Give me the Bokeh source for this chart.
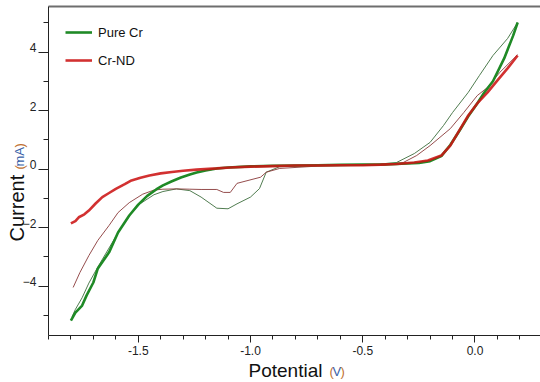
import numpy as np
from bokeh.plotting import figure
from bokeh.models import (Range1d, SingleIntervalTicker, FixedTicker, PrintfTickFormatter, Label,
                          Legend, LegendItem, LinearAxis)
from bokeh.embed import file_html
from bokeh.resources import INLINE

# ---- data ----
pure_fwd_v = [-1.80, -1.78, -1.75, -1.73, -1.70, -1.68, -1.63, -1.59, -1.54, -1.50, -1.46, -1.42,
              -1.39, -1.35, -1.31, -1.27, -1.24, -1.20, -1.15, -1.10, -1.00, -0.90, -0.80, -0.70,
              -0.60, -0.50, -0.40, -0.30, -0.25, -0.20, -0.15, -0.11, -0.07, -0.03, 0.01, 0.04,
              0.08, 0.13, 0.17, 0.19]
pure_fwd_i = [-5.18, -4.91, -4.67, -4.32, -3.88, -3.40, -2.85, -2.17, -1.59, -1.22, -0.92, -0.70,
              -0.56, -0.42, -0.29, -0.19, -0.12, -0.05, 0.02, 0.05, 0.09, 0.11, 0.12, 0.13,
              0.14, 0.15, 0.16, 0.19, 0.21, 0.27, 0.44, 0.82, 1.30, 1.80, 2.24, 2.60,
              3.00, 3.78, 4.56, 5.01]

pure_rev_v = [0.19, 0.145, 0.08, 0.02, -0.03, -0.10, -0.14, -0.20, -0.27, -0.35, -0.45, -0.60,
              -0.75, -0.87, -0.93, -0.96, -1.00, -1.06, -1.10, -1.15, -1.22, -1.27, -1.33, -1.39,
              -1.43, -1.49, -1.53, -1.58, -1.63, -1.68, -1.72, -1.75, -1.78, -1.795]
pure_rev_i = [5.01, 4.46, 3.88, 3.20, 2.62, 1.93, 1.49, 0.91, 0.53, 0.22, 0.15, 0.13,
              0.11, 0.08, -0.11, -0.67, -0.96, -1.19, -1.36, -1.34, -0.96, -0.74, -0.68, -0.77,
              -0.88, -1.18, -1.50, -2.05, -2.70, -3.35, -3.90, -4.40, -4.80, -5.05]

nd_fwd_v = [-1.80, -1.78, -1.765, -1.74, -1.72, -1.69, -1.66, -1.63, -1.60, -1.56, -1.53, -1.49,
            -1.45, -1.40, -1.35, -1.30, -1.24, -1.15, -1.09, -1.00, -0.90, -0.80, -0.70, -0.60,
            -0.50, -0.42, -0.35, -0.27, -0.21, -0.15, -0.11, -0.065, -0.03, 0.01, 0.056, 0.10,
            0.145, 0.19]
nd_fwd_i = [-1.86, -1.78, -1.65, -1.55, -1.42, -1.18, -0.96, -0.82, -0.68, -0.52, -0.39, -0.30,
            -0.22, -0.15, -0.10, -0.06, -0.02, 0.02, 0.05, 0.08, 0.10, 0.12, 0.12, 0.13,
            0.13, 0.15, 0.17, 0.22, 0.29, 0.46, 0.80, 1.38, 1.83, 2.24, 2.62, 3.03,
            3.44, 3.88]

nd_rev_v = [0.19, 0.11, 0.056, 0.01, -0.05, -0.11, -0.20, -0.26, -0.32, -0.40, -0.55, -0.70,
            -0.87, -0.93, -0.955, -1.06, -1.09, -1.12, -1.15, -1.22, -1.27, -1.33, -1.39, -1.43,
            -1.48, -1.54, -1.59, -1.63, -1.68, -1.72, -1.76, -1.79]
nd_rev_i = [3.91, 3.30, 2.79, 2.51, 1.93, 1.38, 0.80, 0.46, 0.22, 0.14, 0.12, 0.10,
            0.02, -0.11, -0.28, -0.49, -0.80, -0.80, -0.70, -0.70, -0.69, -0.68, -0.69, -0.72,
            -0.86, -1.15, -1.49, -1.93, -2.44, -2.96, -3.54, -4.05]

series_names = ["Pure Cr", "Cr-ND"]
x_ticks_interval = 0.5
y_major_ticks = [-4, -2, 0, 2, 4]
y_minor_ticks = [-5, -3, -1, 1, 3, 5]

FONT = "Liberation Sans"
# plotted data box (axes bounds) and the full-canvas ranges around it
X0, X1 = -1.90, 0.292
Y0, Y1 = -5.69, 5.556
XR = (-2.1136, 0.2918)
YR = (-7.299, 5.761)
LABEL_RAISE = 0.15  # y tick labels sit just above their ticks

p = figure(width=540, height=382, output_backend="svg", toolbar_location=None,
           x_range=Range1d(*XR), y_range=Range1d(*YR),
           x_axis_location=None, y_axis_location=None,
           min_border=0, min_border_left=0, min_border_right=0,
           min_border_top=0, min_border_bottom=0)
p.grid.visible = False
p.outline_line_color = None
p.background_fill_color = "white"
p.border_fill_color = "white"
p.extra_y_ranges = {"ylab": Range1d(YR[0] - LABEL_RAISE, YR[1] - LABEL_RAISE)}

# thin (return) sweeps
p.line(pure_rev_v, pure_rev_i, line_color="#3d6e3d", line_width=1, line_alpha=0.9)
p.line(nd_rev_v, nd_rev_i, line_color="#8a3a3a", line_width=1, line_alpha=0.9)
# thick (forward) sweeps
g = p.line(pure_fwd_v, pure_fwd_i, line_color="#1f8a26", line_width=2.6)
r = p.line(nd_fwd_v, nd_fwd_i, line_color="#cc1414", line_width=2.6, line_alpha=0.88)

AX = "#222222"


def style(ax):
    ax.axis_line_color = AX
    ax.major_tick_line_color = AX
    ax.minor_tick_line_color = AX
    ax.major_tick_in = 0
    ax.minor_tick_in = 0
    ax.major_label_text_font = FONT
    ax.major_label_text_font_size = "12px"
    ax.major_label_text_color = AX


xaxis = LinearAxis(fixed_location=Y0, bounds=(X0, X1),
                   ticker=SingleIntervalTicker(interval=x_ticks_interval, num_minor_ticks=5),
                   formatter=PrintfTickFormatter(format="%.1f"))
style(xaxis)
xaxis.major_tick_out = 7
xaxis.minor_tick_out = 4
xaxis.major_label_standoff = 4
p.add_layout(xaxis, "below")

# y axis line + long ticks at the labelled values
y_ticks = LinearAxis(fixed_location=X0, bounds=(Y0, Y1),
                     ticker=FixedTicker(ticks=[], minor_ticks=y_major_ticks))
style(y_ticks)
y_ticks.minor_tick_out = 10
p.add_layout(y_ticks, "left")
# short ticks in between
y_minor = LinearAxis(fixed_location=X0, bounds=(Y0, Y1),
                     ticker=FixedTicker(ticks=[], minor_ticks=y_minor_ticks))
style(y_minor)
y_minor.axis_line_color = None
y_minor.minor_tick_out = 5
p.add_layout(y_minor, "left")
# tick labels, raised a little above their ticks
y_labels = LinearAxis(fixed_location=X0, y_range_name="ylab",
                      ticker=FixedTicker(ticks=y_major_ticks, minor_ticks=[]))
style(y_labels)
y_labels.axis_line_color = None
y_labels.major_tick_line_color = None
y_labels.major_tick_out = 0
y_labels.major_label_standoff = 12
p.add_layout(y_labels, "left")

# top frame line
top = LinearAxis(fixed_location=Y1, bounds=(X0, X1), axis_line_color="#6e6e6e",
                 axis_line_width=2, major_tick_line_color=None, minor_tick_line_color=None,
                 ticker=FixedTicker(ticks=[], minor_ticks=[]))
p.add_layout(top, "above")

# axis titles (screen units measured from the frame = canvas bottom-left)
def lab(**kw):
    base = dict(x_units="screen", y_units="screen", text_font=FONT, text_align="left",
                text_baseline="middle")
    base.update(kw)
    p.add_layout(Label(**base))

lab(x=248, y=12, text="Potential", text_font_size="19px", text_color="#111111")
lab(x=329, y=11, text="(", text_font_size="13px", text_color="#c07030")
lab(x=332, y=11, text="V", text_font_size="13px", text_color="#3a62a8")
lab(x=340, y=11, text=")", text_font_size="13px", text_color="#c07030")

lab(x=16, y=141, text="Current", text_font_size="20px", text_color="#111111", angle=np.pi / 2)
lab(x=19, y=213, text="(", text_font_size="13px", text_color="#c07030", angle=np.pi / 2)
lab(x=19, y=216, text="mA", text_font_size="13px", text_color="#3a62a8", angle=np.pi / 2)
lab(x=19, y=235, text=")", text_font_size="13px", text_color="#c07030", angle=np.pi / 2)

legend = Legend(items=[LegendItem(label=series_names[0], renderers=[g]),
                       LegendItem(label=series_names[1], renderers=[r])],
                location=(65, 312), glyph_width=27, glyph_height=20, label_height=20,
                spacing=8, padding=0, margin=0, label_standoff=6,
                label_text_font=FONT, label_text_font_size="13px", label_text_color="#111111",
                border_line_alpha=0, background_fill_alpha=0)
p.add_layout(legend)

open("out.html", "w").write(file_html(p, INLINE))
